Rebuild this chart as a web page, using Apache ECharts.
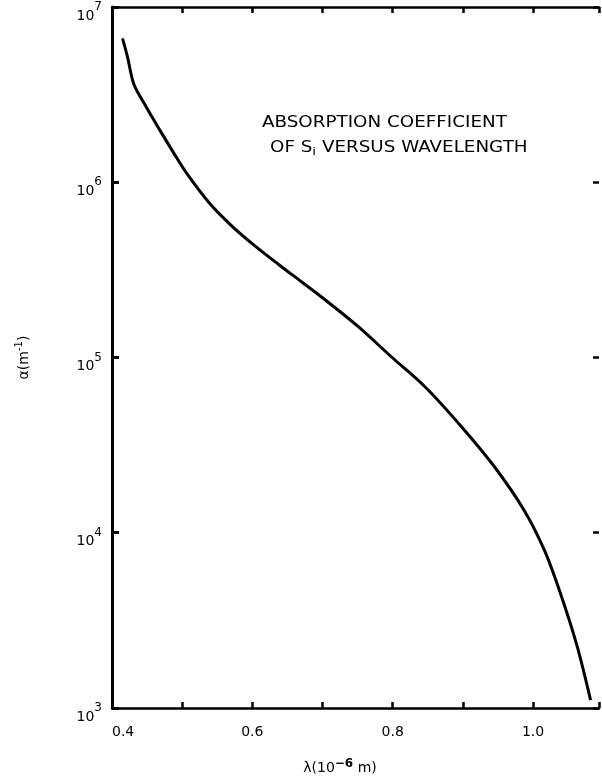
<!DOCTYPE html>
<html>
<head>
<meta charset="utf-8">
<script src="https://cdn.jsdelivr.net/npm/echarts@6/dist/echarts.min.js"></script>
<style>
  html, body { margin: 0; padding: 0; background: #fff; }
  #chart { width: 602px; height: 780px; }
</style>
</head>
<body>
<div id="chart"></div>
<script>
// Absorption coefficient of silicon versus wavelength
const wavelength = [0.415, 0.422, 0.431, 0.449, 0.468, 0.487, 0.506, 0.539, 0.572, 0.605, 0.638,
                    0.657, 0.704, 0.751, 0.798, 0.846, 0.898, 0.945, 0.987, 1.016, 1.039, 1.063, 1.082];
const alpha = [6.63e6, 5.21e6, 3.64e6, 2.68e6, 1.99e6, 1.49e6, 1.13e6, 7.59e5, 5.57e5, 4.29e5, 3.38e5,
               2.96e5, 2.13e5, 1.50e5, 1.01e5, 6.81e4, 4.03e4, 2.38e4, 1.35e4, 7.98e3, 4.51e3, 2.24e3, 1.11e3];
const xTickLabels = ['0.4', '0.6', '0.8', '1.0'];
const titleLines = ['ABSORPTION COEFFICIENT', 'OF S{sub|i} VERSUS WAVELENGTH'];
const xAxisTitle = 'λ(10{sup|−6} m)';
const yAxisTitle = 'α(m{sup|-1})';

const FONT = '"DejaVu Sans", sans-serif';
const INK = '#000';

const chart = echarts.init(document.getElementById('chart'), null, { renderer: 'canvas' });

const axisCommon = {
  type: 'value',
  min: 0.4,
  max: 1.094,
  interval: 0.1,
  splitLine: { show: false },
  axisLine: { show: true, lineStyle: { color: INK, width: 2.5 } },
  axisTick: { show: true, inside: true, length: 6, lineStyle: { color: INK, width: 2.5 } }
};

const pts = wavelength.map((w, i) => [w, alpha[i]]);

chart.setOption({
  backgroundColor: '#fff',
  animation: false,
  grid: { left: 112, right: 0, top: 7, bottom: 72 },
  xAxis: [
    Object.assign({}, axisCommon, {
      position: 'bottom',
      axisLabel: {
        color: INK, fontFamily: FONT, fontSize: 14, margin: 17,
        alignMinLabel: 'left',
        formatter: function (v) {
          const s = v.toFixed(1);
          return (xTickLabels.indexOf(s) >= 0 && Math.abs(v - parseFloat(s)) < 1e-6) ? s : '';
        }
      }
    }),
    Object.assign({}, axisCommon, {
      position: 'top',
      axisLabel: { show: false }
    })
  ],
  yAxis: [
    {
      type: 'log',
      logBase: 10,
      min: 1e3,
      max: 1e7,
      position: 'left',
      splitLine: { show: false },
      axisLine: { show: true, lineStyle: { color: INK, width: 3 } },
      axisTick: { show: true, inside: true, length: 7, lineStyle: { color: INK, width: 3 } },
      axisLabel: {
        color: INK, fontFamily: FONT, fontSize: 14, margin: 10,
        padding: [10, 0, 0, 0],
        formatter: function (v) {
          return '{b|10}{s|' + Math.round(Math.log10(v)) + '}';
        },
        rich: {
          b: { fontFamily: FONT, fontSize: 14, color: INK, lineHeight: 22, verticalAlign: 'bottom' },
          s: { fontFamily: FONT, fontSize: 12, color: INK, lineHeight: 12, verticalAlign: 'top' }
        }
      },
      name: yAxisTitle,
      nameLocation: 'middle',
      nameRotate: 90,
      nameGap: 78,
      nameTextStyle: {
        color: INK, fontFamily: FONT, fontSize: 14, lineHeight: 20,
        rich: { sup: { fontFamily: FONT, fontSize: 10, color: INK, lineHeight: 10, verticalAlign: 'top' } }
      }
    },
    {
      type: 'log',
      logBase: 10,
      min: 1e3,
      max: 1e7,
      position: 'right',
      splitLine: { show: false },
      axisLine: { show: false },
      axisTick: { show: true, inside: true, length: 6, lineStyle: { color: INK, width: 2.5 } },
      axisLabel: { show: false }
    }
  ],
  series: [{
    type: 'line',
    xAxisIndex: 0,
    yAxisIndex: 0,
    data: pts,
    smooth: 0.3,
    showSymbol: false,
    lineStyle: { color: INK, width: 3 }
  }],
  graphic: [
    {
      type: 'text', x: 262, y: 113, scaleX: 1.22,
      style: { text: titleLines[0], fill: INK, fontFamily: FONT, fontSize: 15, lineHeight: 20, verticalAlign: 'top' }
    },
    {
      type: 'text', x: 270, y: 138, scaleX: 1.22,
      style: {
        text: titleLines[1], fill: INK, fontFamily: FONT, fontSize: 15, lineHeight: 20, verticalAlign: 'top',
        rich: { sub: { fontFamily: FONT, fontSize: 11, fill: INK, lineHeight: 4, verticalAlign: 'bottom' } }
      }
    },
    {
      type: 'text', x: 340, y: 768,
      style: {
        text: xAxisTitle, fill: INK, fontFamily: FONT, fontSize: 14, lineHeight: 20,
        align: 'center', verticalAlign: 'middle',
        rich: { sup: { fontFamily: FONT, fontSize: 12, fontWeight: 'bold', fill: INK, lineHeight: 10, verticalAlign: 'top' } }
      }
    }
  ]
});
</script>
</body>
</html>
